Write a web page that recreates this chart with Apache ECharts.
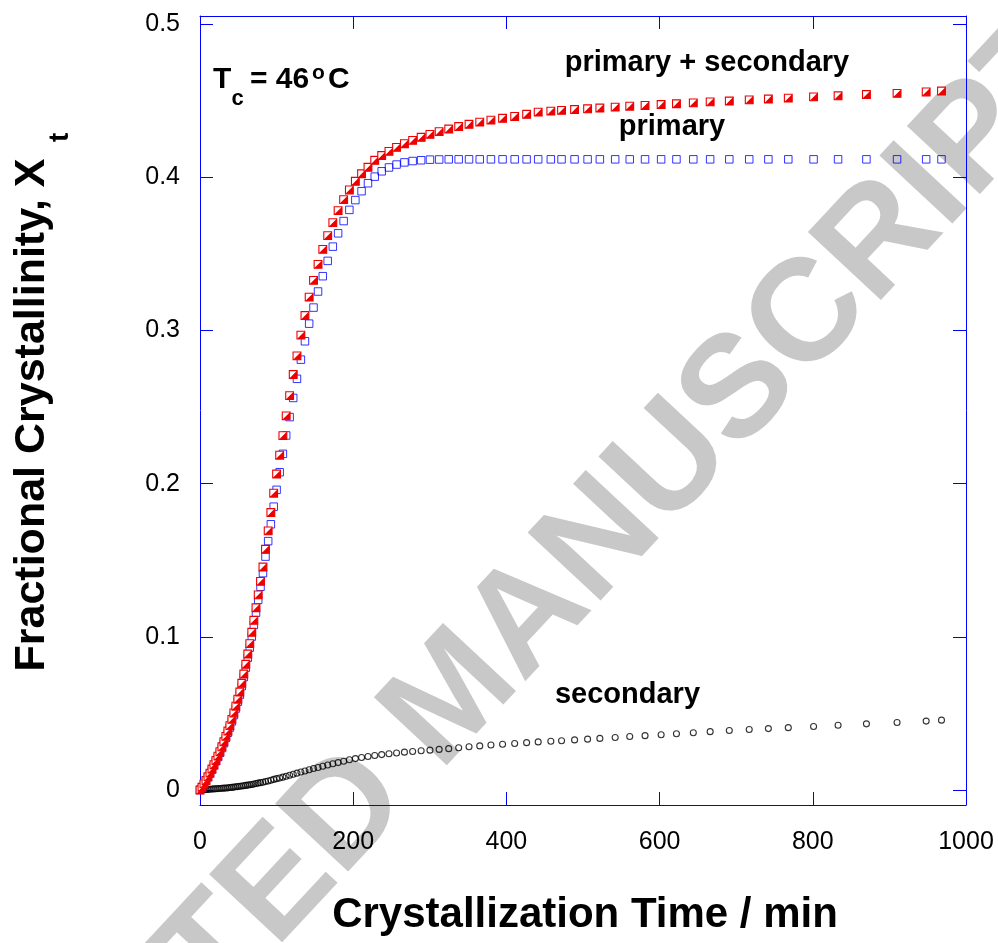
<!DOCTYPE html>
<html>
<head>
<meta charset="utf-8">
<script src="https://cdn.jsdelivr.net/npm/echarts@6/dist/echarts.min.js"></script>
<style>
  html, body { margin: 0; padding: 0; background: #fff; }
  #chart { width: 998px; height: 943px; }
</style>
</head>
<body>
<div id="chart"></div>
<script>
// Crystallization time (min)
var times = [0, 2.6, 5.2, 7.8, 10.4, 13, 15.6, 18.2, 20.8, 23.4,
  26, 28.6, 31.2, 33.8, 36.4, 39, 41.6, 44.2, 46.8, 49.4,
  52, 54.6, 57.2, 59.8, 62.4, 65, 67.6, 70.3, 73.1, 76,
  79, 82.2, 85.5, 89, 92.5, 96.2, 100, 104, 108.2, 112.5,
  117, 121.7, 126.6, 131.7, 137, 142.5, 148.2, 154.1, 160.3, 166.7,
  173.4, 180.3, 187.5, 195, 202.8, 210.9, 219.3, 228.1, 237.2, 246.7,
  256.6, 266.9, 277.6, 288.7, 300.2, 312.2, 324.7, 337.7, 351.2, 365.2,
  379.8, 395, 410.8, 426.4, 441.5, 458, 472, 489, 506, 522,
  542, 561, 581, 602, 622, 644, 666, 691, 717, 742,
  768, 801, 833, 870, 910, 948, 968];

// primary + secondary
var totalX = [0, 0.0018, 0.004, 0.0062, 0.0086, 0.011, 0.0137, 0.0165, 0.0193, 0.0221,
  0.025, 0.0282, 0.0315, 0.035, 0.0385, 0.042, 0.0461, 0.0503, 0.0547, 0.0593,
  0.064, 0.0697, 0.0757, 0.0821, 0.0888, 0.0956, 0.103, 0.1108, 0.119, 0.1274,
  0.1362, 0.1456, 0.1572, 0.1692, 0.1812, 0.1938, 0.2063, 0.2186, 0.2314, 0.2443,
  0.2575, 0.2713, 0.2835, 0.297, 0.3098, 0.3218, 0.3328, 0.3432, 0.353, 0.362,
  0.3705, 0.3783, 0.3855, 0.3918, 0.3975, 0.4024, 0.4066, 0.4112, 0.4143, 0.417,
  0.4196, 0.422, 0.4242, 0.4262, 0.4281, 0.4299, 0.4316, 0.4332, 0.4347, 0.4361,
  0.4374, 0.4386, 0.4398, 0.4412, 0.4426, 0.4433, 0.4438, 0.4443, 0.4448, 0.4453,
  0.4459, 0.4465, 0.447, 0.4476, 0.4481, 0.4487, 0.4493, 0.4499, 0.4506, 0.4512,
  0.4518, 0.4526, 0.4533, 0.4541, 0.4549, 0.4558, 0.4564];

// primary
var primaryX = [0, 0.0017, 0.0038, 0.006, 0.0083, 0.0107, 0.0133, 0.016, 0.0188, 0.0215,
  0.0243, 0.0274, 0.0306, 0.034, 0.0374, 0.0408, 0.0448, 0.0489, 0.0532, 0.0577,
  0.0623, 0.0678, 0.0737, 0.0799, 0.0864, 0.093, 0.1002, 0.1078, 0.1158, 0.1241,
  0.1327, 0.1416, 0.1524, 0.1625, 0.1735, 0.185, 0.196, 0.2075, 0.2195, 0.2315,
  0.2435, 0.256, 0.2685, 0.281, 0.293, 0.3045, 0.315, 0.3255, 0.3355, 0.3455,
  0.3548, 0.3635, 0.3715, 0.3788, 0.3852, 0.391, 0.3962, 0.4005, 0.404, 0.4065,
  0.4084, 0.4098, 0.4107, 0.4112, 0.4116, 0.4117, 0.4118, 0.4118, 0.4118, 0.4118,
  0.4118, 0.4118, 0.4118, 0.4118, 0.4118, 0.4118, 0.4118, 0.4118, 0.4118, 0.4118,
  0.4118, 0.4118, 0.4118, 0.4118, 0.4118, 0.4118, 0.4118, 0.4118, 0.4118, 0.4118,
  0.4118, 0.4118, 0.4118, 0.4118, 0.4118, 0.4118, 0.4118];

// secondary
var secondaryX = [0, 0.0001, 0.0002, 0.0003, 0.0004, 0.0005, 0.0006, 0.0007, 0.0008, 0.0009,
  0.001, 0.0011, 0.0012, 0.0013, 0.0014, 0.0016, 0.0017, 0.0019, 0.0021, 0.0022,
  0.0024, 0.0026, 0.0028, 0.003, 0.0032, 0.0034, 0.0036, 0.0039, 0.0042, 0.0045,
  0.0048, 0.0051, 0.0055, 0.0059, 0.0064, 0.0069, 0.0074, 0.0078, 0.0084, 0.009,
  0.0096, 0.0103, 0.011, 0.0117, 0.0124, 0.0132, 0.014, 0.0147, 0.0155, 0.0163,
  0.0171, 0.0179, 0.0188, 0.0197, 0.0205, 0.0212, 0.0219, 0.0225, 0.0231, 0.0237,
  0.0242, 0.0247, 0.0251, 0.0256, 0.026, 0.0265, 0.027, 0.0276, 0.0282, 0.0288,
  0.0294, 0.0299, 0.0304, 0.0309, 0.0314, 0.0318, 0.0322, 0.0327, 0.0332, 0.0337,
  0.0343, 0.0349, 0.0355, 0.0361, 0.0367, 0.0374, 0.0381, 0.0388, 0.0395, 0.0401,
  0.0407, 0.0415, 0.0423, 0.0432, 0.0441, 0.045, 0.0456];

var xTicks = [0, 200, 400, 600, 800, 1000];
var yTicks = [0, 0.1, 0.2, 0.3, 0.4, 0.5];

function pairs(xs, ys) { return xs.map(function (x, i) { return [x, ys[i]]; }); }

var FONT = "'Liberation Sans', Arial, sans-serif";
var BLUE = '#0000ff';
var RED = '#ee0000';

var chart = echarts.init(document.getElementById('chart'), null, { renderer: 'canvas' });

function xAxisDef(pos, showLabel) {
  return {
    type: 'value', position: pos, min: 0, max: 1000, interval: 200,
    axisLine: { show: true, onZero: false, lineStyle: { color: BLUE, width: 1 } },
    axisTick: { show: true, inside: true, length: 13, lineStyle: { color: BLUE, width: 1 } },
    axisLabel: { show: showLabel, margin: 25, color: '#000', fontSize: 25, fontFamily: FONT,
      customValues: xTicks, formatter: function (v) { return String(v); } },
    splitLine: { show: false }
  };
}
function yAxisDef(pos, showLabel) {
  return {
    type: 'value', position: pos, min: -0.0098, max: 0.5054,
    axisLine: { show: true, onZero: false, lineStyle: { color: BLUE, width: 1 } },
    axisTick: { show: true, inside: true, length: 13, lineStyle: { color: BLUE, width: 1 },
      customValues: yTicks },
    axisLabel: { show: showLabel, margin: 20, color: '#000', fontSize: 25, fontFamily: FONT,
      customValues: yTicks, formatter: function (v) { return String(Math.round(v * 10) / 10); } },
    splitLine: { show: false }
  };
}

var option = {
  animation: false,
  backgroundColor: '#fff',
  grid: { left: 200, right: 32, top: 16, bottom: 138, containLabel: false },
  xAxis: [xAxisDef('bottom', true), xAxisDef('top', false)],
  yAxis: [yAxisDef('left', true), yAxisDef('right', false)],
  series: [
    {
      name: 'primary', type: 'scatter', xAxisIndex: 0, yAxisIndex: 0,
      data: pairs(times, primaryX), symbol: 'rect', symbolSize: 7.5,
      itemStyle: { color: 'rgba(0,0,0,0)', borderColor: BLUE, borderWidth: 1 },
      z: 3
    },
    {
      name: 'secondary', type: 'scatter', xAxisIndex: 0, yAxisIndex: 0,
      data: pairs(times, secondaryX), symbol: 'circle', symbolSize: 6,
      itemStyle: { color: 'rgba(0,0,0,0)', borderColor: '#000', borderWidth: 1.1 },
      z: 4
    },
    {
      name: 'primary + secondary', type: 'custom', xAxisIndex: 0, yAxisIndex: 0,
      data: pairs(times, totalX),
      encode: { x: 0, y: 1 },
      clip: false,
      z: 5,
      renderItem: function (params, api) {
        var p = api.coord([api.value(0), api.value(1)]);
        var h = 3.9;
        return {
          type: 'group',
          children: [
            { type: 'rect', shape: { x: p[0] - h, y: p[1] - h, width: 2 * h, height: 2 * h },
              style: { fill: '#fff', stroke: RED, lineWidth: 1.1 } },
            { type: 'polygon', shape: { points: [[p[0] + h, p[1] - h], [p[0] + h, p[1] + h], [p[0] - h, p[1] + h]] },
              style: { fill: RED } }
          ]
        };
      }
    }
  ],
  graphic: [
    { type: 'text', z: -10, x: 455, y: 698, rotation: 47 * Math.PI / 180,
      style: { text: 'ACCEPTED MANUSCRIPT', fill: '#c8c8c8', font: "bold 145px " + FONT,
        textAlign: 'center', textVerticalAlign: 'middle' } },
    // axis titles
    { type: 'text', z: 100, x: 585, y: 915,
      style: { text: 'Crystallization Time / min', fill: '#000', font: "bold 42px " + FONT,
        textAlign: 'center', textVerticalAlign: 'middle' } },
    { type: 'text', z: 100, x: 32, y: 415, rotation: Math.PI / 2,
      style: { text: 'Fractional Crystallinity, X', fill: '#000', font: "bold 43px " + FONT,
        textAlign: 'center', textVerticalAlign: 'middle' } },
    { type: 'text', z: 100, x: 60, y: 142, rotation: Math.PI / 2,
      style: { text: 't', fill: '#000', font: "bold 28px " + FONT,
        textAlign: 'left', textVerticalAlign: 'middle' } },
    // Tc label
    { type: 'text', z: 100, x: 213, y: 79.5,
      style: { text: 'T', fill: '#000', font: "bold 30px " + FONT, textAlign: 'left', textVerticalAlign: 'middle' } },
    { type: 'text', z: 100, x: 231.5, y: 99,
      style: { text: 'c', fill: '#000', font: "bold 22px " + FONT, textAlign: 'left', textVerticalAlign: 'middle' } },
    { type: 'text', z: 100, x: 250, y: 79.5,
      style: { text: '= 46', fill: '#000', font: "bold 30px " + FONT, textAlign: 'left', textVerticalAlign: 'middle' } },
    { type: 'text', z: 100, x: 312, y: 73,
      style: { text: 'o', fill: '#000', font: "bold 21px " + FONT, textAlign: 'left', textVerticalAlign: 'middle' } },
    { type: 'text', z: 100, x: 328, y: 79.5,
      style: { text: 'C', fill: '#000', font: "bold 30px " + FONT, textAlign: 'left', textVerticalAlign: 'middle' } },
    // series annotations
    { type: 'text', z: 100, x: 707, y: 63,
      style: { text: 'primary + secondary', fill: '#000', font: "bold 29px " + FONT, textAlign: 'center', textVerticalAlign: 'middle' } },
    { type: 'text', z: 100, x: 672, y: 126.5,
      style: { text: 'primary', fill: '#000', font: "bold 29px " + FONT, textAlign: 'center', textVerticalAlign: 'middle' } },
    { type: 'text', z: 100, x: 627.5, y: 694.5,
      style: { text: 'secondary', fill: '#000', font: "bold 29px " + FONT, textAlign: 'center', textVerticalAlign: 'middle' } }
  ]
};
chart.setOption(option);
</script>
</body>
</html>
